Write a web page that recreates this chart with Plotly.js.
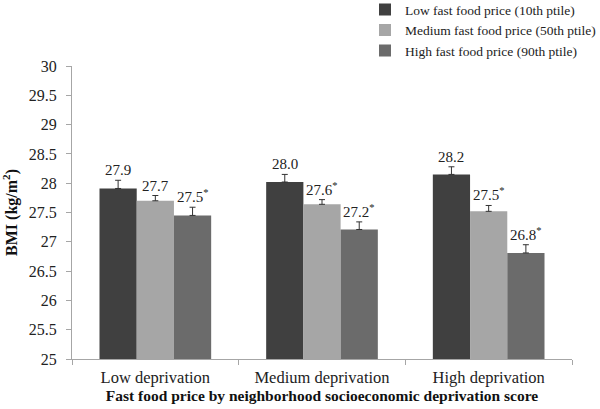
<!DOCTYPE html>
<html>
<head>
<meta charset="utf-8">
<script src="https://cdn.plot.ly/plotly-3.0.1.min.js"></script>
<style>html,body{margin:0;padding:0;background:#fff;}#chart{width:600px;height:409px;}</style>
</head>
<body>
<div id="chart"></div>
<script>
var categories = ["Low deprivation", "Medium deprivation", "High deprivation"];
var seriesNames = ["Low fast food price (10th ptile)", "Medium fast food price (50th ptile)", "High fast food price (90th ptile)"];
var lowPrice = [27.91, 28.02, 28.15];
var mediumPrice = [27.70, 27.64, 27.52];
var highPrice = [27.45, 27.21, 26.81];
var lowErr = [0.14, 0.13, 0.13];
var mediumErr = [0.09, 0.08, 0.10];
var highErr = [0.14, 0.13, 0.14];
var lowLabels = ["27.9", "28.0", "28.2"];
var mediumLabels = ["27.7", "27.6", "27.5"];
var highLabels = ["27.5", "27.2", "26.8"];
var lowSig = [false, false, false];
var mediumSig = [false, true, true];
var highSig = [true, true, true];
var yTicks = [25, 25.5, 26, 26.5, 27, 27.5, 28, 28.5, 29, 29.5, 30];

var colors = ["#404040", "#a6a6a6", "#6b6b6b"];
var values = [lowPrice, mediumPrice, highPrice];
var errs = [lowErr, mediumErr, highErr];
var labels = [lowLabels, mediumLabels, highLabels];
var sigs = [lowSig, mediumSig, highSig];
var bargap = 0.33;
var font = "'Liberation Serif', 'Times New Roman', serif";

var traces = values.map(function (v, j) {
  return {
    type: "bar",
    name: seriesNames[j],
    x: categories,
    y: v,
    marker: {color: colors[j], line: {width: 0}},
    error_y: {type: "data", symmetric: false, array: errs[j], arrayminus: v.map(function(){return 0;}),
              color: "#333333", thickness: 1, width: 3},
    hoverinfo: "none"
  };
});

var annotations = [];
var bw = (1 - bargap) / 3;
values.forEach(function (v, j) {
  v.forEach(function (val, i) {
    annotations.push({
      x: i + (j - 1) * bw,
      y: val + errs[j][i],
      xref: "x", yref: "y",
      text: labels[j][i] + (sigs[j][i] ? "<sup>*</sup>" : ""),
      showarrow: false,
      yanchor: "bottom",
      xanchor: "center",
      font: {family: font, size: 15, color: "#222"}
    });
  });
});

var layout = {
  width: 600, height: 409,
  margin: {l: 72, r: 28, t: 66, b: 50, autoexpand: false},
  paper_bgcolor: "#fff", plot_bgcolor: "#fff",
  barmode: "group",
  bargap: bargap,
  bargroupgap: 0,
  font: {family: font, size: 16, color: "#222"},
  showlegend: true,
  legend: {x: 0.586, y: 1.245, xanchor: "left", yanchor: "top", font: {family: font, size: 13.5, color: "#222"},
           itemwidth: 30, tracegroupgap: 0, bgcolor: "rgba(0,0,0,0)"},
  xaxis: {
    type: "category",
    tickson: "boundaries",
    ticks: "outside", ticklen: 5, tickcolor: "#a6a6a6",
    showline: true, linecolor: "#a6a6a6", linewidth: 1,
    showgrid: false, zeroline: false,
    ticklabelstandoff: 3,
    tickfont: {family: font, size: 16.5, color: "#222"},
    title: {text: "<b>Fast food price by neighborhood socioeconomic deprivation score</b>",
            font: {family: font, size: 15.5, color: "#111"}, standoff: 4}
  },
  yaxis: {
    range: [25, 30],
    tickvals: yTicks,
    ticktext: yTicks.map(String),
    ticks: "outside", ticklen: 5, tickcolor: "#a6a6a6",
    showline: true, linecolor: "#a6a6a6", linewidth: 1,
    showgrid: false, zeroline: false,
    ticklabelstandoff: 6,
    tickfont: {family: font, size: 16, color: "#222"},
    title: {text: "<b>BMI (kg/m<sup>2</sup>)</b>", font: {family: font, size: 16, color: "#111"}, standoff: 8}
  },
  annotations: annotations
};

Plotly.newPlot("chart", traces, layout, {staticPlot: true, displayModeBar: false});
</script>
</body>
</html>
